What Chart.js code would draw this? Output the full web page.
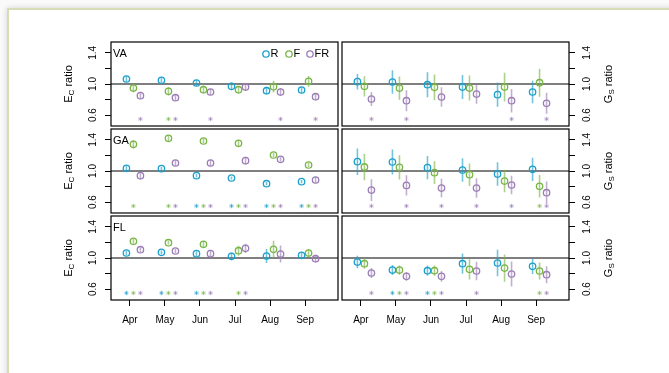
<!DOCTYPE html>
<html>
<head>
<meta charset="utf-8">
<script src="https://cdn.jsdelivr.net/npm/chart.js@4.4.1/dist/chart.umd.min.js"></script>
<style>
  html, body { margin: 0; padding: 0; background: #fafafa; overflow: hidden; }
  body { width: 669px; height: 373px; position: relative; }
  .frame { position: absolute; left: 7px; top: 8px; width: 720px; height: 420px;
           border: 2px solid #d5dcb6; background: #fff; box-shadow: 0 0 6px rgba(0,0,0,0.16); }
  canvas { position: absolute; left: 0; top: 0; }
</style>
</head>
<body>
<div class="frame"></div>
<canvas id="p0" width="669" height="373"></canvas>
<canvas id="p1" width="669" height="373"></canvas>
<canvas id="p2" width="669" height="373"></canvas>
<canvas id="p3" width="669" height="373"></canvas>
<canvas id="p4" width="669" height="373"></canvas>
<canvas id="p5" width="669" height="373"></canvas>
<script>
// ---- data: treatment / control ratios by month (rows: R, F, FR) ----
const months = ['Apr', 'May', 'Jun', 'Jul', 'Aug', 'Sep'];
const sites = ['VA', 'GA', 'FL'];
const seriesNames = ['R', 'F', 'FR'];
const yTickValues = [0.6, 0.8, 1.0, 1.2, 1.4];
const yTickLabels = ['0.6', '', '1.0', '', '1.4'];

// canopy transpiration ratio (E_C)
const ecVA = [
  [1.064, 1.047, 1.013, 0.970, 0.914, 0.923],
  [0.948, 0.906, 0.927, 0.927, 0.966, 1.034],
  [0.850, 0.824, 0.897, 0.961, 0.897, 0.837]
];
const ecVAerr = [
  [0.035, 0.035, 0.040, 0.050, 0.050, 0.040],
  [0.055, 0.055, 0.050, 0.050, 0.075, 0.070],
  [0.040, 0.035, 0.040, 0.045, 0.050, 0.045]
];
const ecVAsig = [
  [0, 0, 0, 0, 0, 0],
  [0, 1, 0, 0, 0, 0],
  [1, 1, 1, 0, 1, 1]
];

const ecGA = [
  [1.034, 1.030, 0.940, 0.910, 0.837, 0.863],
  [1.343, 1.420, 1.386, 1.356, 1.206, 1.077],
  [0.940, 1.103, 1.103, 1.133, 1.150, 0.884]
];
const ecGAerr = [
  [0.030, 0.025, 0.025, 0.020, 0.020, 0.020],
  [0.055, 0.035, 0.030, 0.035, 0.025, 0.025],
  [0.045, 0.040, 0.040, 0.050, 0.030, 0.040]
];
const ecGAsig = [
  [0, 0, 1, 1, 1, 1],
  [1, 1, 1, 1, 1, 1],
  [0, 1, 1, 1, 1, 1]
];

const ecFL = [
  [1.064, 1.073, 1.056, 1.021, 1.026, 1.034],
  [1.215, 1.197, 1.176, 1.094, 1.112, 1.064],
  [1.107, 1.090, 1.056, 1.124, 1.051, 0.991]
];
const ecFLerr = [
  [0.030, 0.025, 0.030, 0.050, 0.090, 0.040],
  [0.030, 0.025, 0.040, 0.065, 0.110, 0.050],
  [0.030, 0.025, 0.040, 0.060, 0.110, 0.050]
];
const ecFLsig = [
  [1, 1, 1, 0, 0, 0],
  [1, 1, 1, 1, 0, 0],
  [1, 1, 1, 1, 0, 0]
];

// stomatal conductance ratio (G_S)
const gsVA = [
  [1.030, 1.026, 0.991, 0.961, 0.863, 0.897],
  [0.970, 0.948, 0.957, 0.948, 0.961, 1.017],
  [0.807, 0.785, 0.833, 0.871, 0.785, 0.751]
];
const gsVAerr = [
  [0.100, 0.150, 0.160, 0.155, 0.155, 0.145],
  [0.130, 0.150, 0.165, 0.160, 0.185, 0.180],
  [0.090, 0.135, 0.125, 0.125, 0.150, 0.135]
];
const gsVAsig = [
  [0, 0, 0, 0, 0, 0],
  [0, 0, 0, 0, 0, 0],
  [1, 1, 0, 0, 1, 1]
];

const gsGA = [
  [1.120, 1.116, 1.043, 1.013, 0.961, 1.021],
  [1.052, 1.047, 0.979, 0.953, 0.871, 0.803],
  [0.755, 0.815, 0.781, 0.781, 0.820, 0.721]
];
const gsGAerr = [
  [0.170, 0.160, 0.150, 0.150, 0.150, 0.150],
  [0.170, 0.155, 0.145, 0.145, 0.145, 0.145],
  [0.140, 0.130, 0.120, 0.125, 0.120, 0.145]
];
const gsGAsig = [
  [0, 0, 0, 0, 0, 0],
  [0, 0, 0, 0, 0, 1],
  [1, 1, 1, 1, 1, 1]
];

const gsFL = [
  [0.948, 0.845, 0.837, 0.927, 0.936, 0.893],
  [0.927, 0.845, 0.837, 0.854, 0.871, 0.833],
  [0.807, 0.764, 0.764, 0.833, 0.794, 0.785]
];
const gsFLerr = [
  [0.080, 0.065, 0.065, 0.130, 0.170, 0.100],
  [0.065, 0.060, 0.065, 0.130, 0.175, 0.110],
  [0.065, 0.055, 0.070, 0.120, 0.160, 0.110]
];
const gsFLsig = [
  [0, 1, 1, 0, 0, 0],
  [0, 1, 1, 0, 0, 1],
  [1, 1, 1, 1, 0, 1]
];

const SIG_LEVEL = 0.55;   // height of the significance stars

// ---- styling / layout ----
const FONT = "'Liberation Sans', Arial, Helvetica, sans-serif";
const colors = ['#1c9fca', '#78b546', '#9b7db5'];
const barColors = ['rgba(28,159,202,0.62)', 'rgba(120,181,70,0.62)', 'rgba(155,125,181,0.62)'];
const dodge = [-0.1, 0.1, 0.3];
const COLS = { left: [111, 338], right: [342, 569] };
const ROW_TOP = [42, 129, 216];
const ROW_H = 84;
const YAXIS_W = 30;
const XAXIS_H = 30;
const W = 669, H = 373;

Chart.defaults.font.family = FONT;
Chart.defaults.font.size = 10;
Chart.defaults.color = '#000';

function buildDatasets(means, errs, sigs) {
  const sets = [];
  seriesNames.forEach((name, s) => {
    const bars = [];
    months.forEach((m, i) => {
      const x = i + 1 + dodge[s];
      bars.push({ x, y: means[s][i] - errs[s][i] });
      bars.push({ x, y: means[s][i] + errs[s][i] });
      bars.push({ x, y: null });
    });
    sets.push({
      label: name + ' se', data: bars, showLine: true, spanGaps: false,
      borderColor: barColors[s], borderWidth: 1.6, pointRadius: 0, order: 3
    });
    sets.push({
      label: name, data: months.map((m, i) => ({ x: i + 1 + dodge[s], y: means[s][i] })),
      showLine: false, pointRadius: 3.2, pointBorderWidth: 1.3,
      pointBackgroundColor: 'rgba(0,0,0,0)', borderColor: colors[s], order: 1
    });
    const stars = [];
    months.forEach((m, i) => { if (sigs[s][i]) stars.push({ x: i + 1 + dodge[s], y: SIG_LEVEL }); });
    sets.push({
      label: name + ' sig', data: stars, showLine: false, pointStyle: 'star',
      pointRadius: 2.2, pointBorderWidth: 1, borderColor: barColors[s], order: 2
    });
  });
  return sets;
}

// frame, reference line, panel tag, axis title and key
const decor = {
  id: 'decor',
  beforeDatasetsDraw(chart, args, o) {
    const { ctx, chartArea: a } = chart;
    const y1 = chart.scales.y.getPixelForValue(1);
    ctx.save();
    ctx.strokeStyle = '#000';
    ctx.lineWidth = 1.2;
    ctx.beginPath();
    ctx.moveTo(a.left, y1);
    ctx.lineTo(a.right, y1);
    ctx.stroke();
    ctx.restore();
  },
  afterDraw(chart, args, o) {
    const { ctx, chartArea: a } = chart;
    ctx.save();
    ctx.strokeStyle = '#000';
    ctx.lineWidth = 1.2;
    ctx.strokeRect(a.left, a.top, a.right - a.left, a.bottom - a.top);

    ctx.fillStyle = '#000';
    ctx.textBaseline = 'middle';
    if (o.tag) {
      ctx.font = '11px ' + FONT;
      ctx.textAlign = 'left';
      ctx.fillText(o.tag, a.left + 2, a.top + 12);
    }

    // axis title with subscript, rotated
    const cy = (a.top + a.bottom) / 2;
    const tx = o.side === 'left' ? a.left - 42 : a.right + 40;
    ctx.translate(tx, cy);
    ctx.rotate(-Math.PI / 2);
    ctx.textAlign = 'left';
    ctx.font = '11px ' + FONT;
    const wMain = ctx.measureText(o.title[0]).width;
    const wRest = ctx.measureText(o.title[2]).width;
    ctx.font = '8px ' + FONT;
    const wSub = ctx.measureText(o.title[1]).width;
    let x0 = -(wMain + wSub + wRest) / 2;
    ctx.font = '11px ' + FONT;
    ctx.fillText(o.title[0], x0, 0);
    ctx.font = '8px ' + FONT;
    ctx.fillText(o.title[1], x0 + wMain, 3);
    ctx.font = '11px ' + FONT;
    ctx.fillText(o.title[2], x0 + wMain + wSub, 0);
    ctx.setTransform(1, 0, 0, 1, 0, 0);

    if (o.legend) {
      const ly = a.top + 12;
      const lx = [266, 289, 310];
      ctx.font = '11px ' + FONT;
      ctx.textAlign = 'left';
      seriesNames.forEach((name, s) => {
        ctx.strokeStyle = colors[s];
        ctx.lineWidth = 1.3;
        ctx.beginPath();
        ctx.arc(lx[s], ly, 3.2, 0, Math.PI * 2);
        ctx.stroke();
        ctx.fillStyle = '#000';
        ctx.fillText(name, lx[s] + 4.5, ly);
      });
    }
    ctx.restore();
  }
};

function makePanel(id, cfg) {
  const [x0, x1] = COLS[cfg.side];
  const top = ROW_TOP[cfg.row];
  const bottom = top + ROW_H;
  const showX = cfg.row === 2;
  const padding = cfg.side === 'left'
    ? { left: x0 - YAXIS_W, right: W - x1 }
    : { left: x0, right: W - x1 - YAXIS_W };
  padding.top = top;
  padding.bottom = H - bottom - (showX ? XAXIS_H : 0);

  new Chart(document.getElementById(id), {
    type: 'scatter',
    data: { datasets: buildDatasets(cfg.means, cfg.errs, cfg.sigs) },
    plugins: [decor],
    options: {
      responsive: false, animation: false, devicePixelRatio: 1, events: [],
      layout: { padding },
      plugins: {
        legend: { display: false }, tooltip: { enabled: false },
        decor: { side: cfg.side, tag: cfg.tag, title: cfg.title, legend: cfg.legend }
      },
      scales: {
        x: {
          type: 'linear', min: 0.46, max: 6.94, display: showX,
          afterBuildTicks: s => { s.ticks = months.map((m, i) => ({ value: i + 1 })); },
          afterFit: s => { s.height = showX ? XAXIS_H : 0; },
          ticks: { callback: v => months[Math.round(v) - 1], autoSkip: false, maxRotation: 0, padding: 8, color: '#000' },
          grid: { drawOnChartArea: false, drawTicks: true, tickLength: 6, color: '#000', lineWidth: 1 },
          border: { display: false }
        },
        y: {
          type: 'linear', position: cfg.side, min: 0.46, max: 1.54,
          afterBuildTicks: s => { s.ticks = yTickValues.map(v => ({ value: v })); },
          afterFit: s => { s.width = YAXIS_W; },
          ticks: {
            callback: (v, i) => yTickLabels[i], autoSkip: false,
            minRotation: 90, maxRotation: 90, crossAlign: 'center', padding: 5, color: '#000'
          },
          grid: { drawOnChartArea: false, drawTicks: true, tickLength: 6, color: '#000', lineWidth: 1 },
          border: { display: false }
        }
      }
    }
  });
}

const EC_TITLE = ['E', 'C', ' ratio'];
const GS_TITLE = ['G', 'S', ' ratio'];

makePanel('p0', { side: 'left',  row: 0, tag: sites[0], title: EC_TITLE, legend: true,  means: ecVA, errs: ecVAerr, sigs: ecVAsig });
makePanel('p1', { side: 'right', row: 0, tag: '',       title: GS_TITLE, legend: false, means: gsVA, errs: gsVAerr, sigs: gsVAsig });
makePanel('p2', { side: 'left',  row: 1, tag: sites[1], title: EC_TITLE, legend: false, means: ecGA, errs: ecGAerr, sigs: ecGAsig });
makePanel('p3', { side: 'right', row: 1, tag: '',       title: GS_TITLE, legend: false, means: gsGA, errs: gsGAerr, sigs: gsGAsig });
makePanel('p4', { side: 'left',  row: 2, tag: sites[2], title: EC_TITLE, legend: false, means: ecFL, errs: ecFLerr, sigs: ecFLsig });
makePanel('p5', { side: 'right', row: 2, tag: '',       title: GS_TITLE, legend: false, means: gsFL, errs: gsFLerr, sigs: gsFLsig });
</script>
</body>
</html>
